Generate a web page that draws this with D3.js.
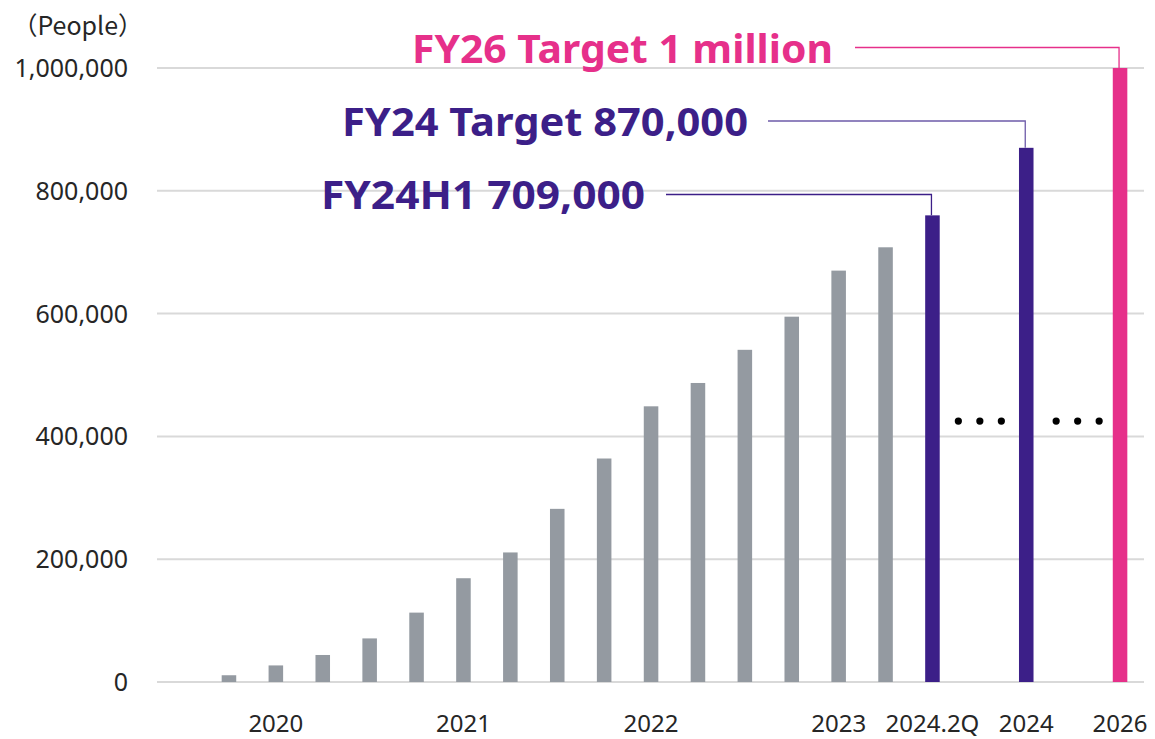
<!DOCTYPE html>
<html>
<head>
<meta charset="utf-8">
<script src="https://cdn.jsdelivr.net/npm/d3@7"></script>
<style>
  html, body { margin: 0; padding: 0; background: #ffffff; }
  svg { display: block; }
</style>
</head>
<body>
<div id="chart"></div>
<script>
// ---- Data ----
const categories = [
  "2020.3Q","2020.4Q","2021.1Q","2021.2Q","2021.3Q","2021.4Q",
  "2022.1Q","2022.2Q","2022.3Q","2022.4Q","2023.1Q","2023.2Q",
  "2023.3Q","2023.4Q","2024.1Q","2024.2Q","gapA","2024","gapB","2026"
];
const values = [
  11000, 27000, 44000, 71000, 113000, 169000,
  211000, 282000, 364000, 449000, 487000, 541000,
  595000, 670000, 708000, 760000, null, 870000, null, 1000000
];
const barKinds = [
  "actual","actual","actual","actual","actual","actual",
  "actual","actual","actual","actual","actual","actual",
  "actual","actual","actual","h1","gap","target24","gap","target26"
];
const tickLabels = {
  "2020.4Q": "2020", "2021.4Q": "2021", "2022.4Q": "2022", "2023.4Q": "2023",
  "2024.2Q": "2024.2Q", "2024": "2024", "2026": "2026"
};
const yTicks = [0, 200000, 400000, 600000, 800000, 1000000];
const gapCategories = ["gapA", "gapB"];
const gapDotsValue = 425000;
const annotations = [
  { text: "FY26 Target 1 million", target: "2026", kind: "target26" },
  { text: "FY24 Target 870,000", target: "2024", kind: "target24" },
  { text: "FY24H1 709,000", target: "2024.2Q", kind: "h1" }
];
const yUnit = "（People）";

// ---- Styles ----
const W = 1155, H = 739;
const colors = { actual: "#949aa1", h1: "#3c1f88", target24: "#3c1f88", target26: "#e6308a" };
const leaderColors = { h1: "#3c1f88", target24: "#6e5ba9", target26: "#e6308a" };
// annotation layout (pixels): text extent, baseline, leader start and y
const annLayout = {
  target26: { textEnd: 833, textStart: 412, baseline: 63, lineStart: 855, lineY: 47.5 },
  target24: { textEnd: 748, textStart: 342, baseline: 136, lineStart: 768, lineY: 121 },
  h1:       { textEnd: 645, textStart: 321, baseline: 209, lineStart: 666, lineY: 194.5 }
};

const svg = d3.select("#chart").append("svg").attr("width", W).attr("height", H);

const x = d3.scaleBand().domain(categories).range([205.5, 1143.5])
  .paddingInner(0.69).paddingOuter(0.345);
const y = d3.scaleLinear().domain([0, 1000000]).range([682, 68]);

const gridLeft = 157, gridRight = 1144;

// gridlines
svg.append("g").selectAll("line").data(yTicks).join("line")
  .attr("x1", gridLeft).attr("x2", gridRight)
  .attr("y1", d => y(d)).attr("y2", d => y(d))
  .attr("stroke", "#d9d9d9").attr("stroke-width", 2);

// y axis labels via d3 axis
const yAxis = d3.axisLeft(y).tickValues(yTicks).tickFormat(d3.format(",")).tickSize(0).tickPadding(0);
const yg = svg.append("g").attr("transform", "translate(128,0)").call(yAxis);
yg.select(".domain").remove();
yg.selectAll("text")
  .attr("font-family", "'Noto Sans', 'Open Sans', sans-serif")
  .attr("font-size", 25).attr("fill", "#262626").attr("dy", "0.34em");

svg.append("text").attr("x", 143).attr("y", 35).attr("text-anchor", "end")
  .attr("font-family", "'Noto Sans CJK JP', 'Noto Sans', sans-serif")
  .attr("font-size", 25).attr("fill", "#262626").text(yUnit);

// bars
const barData = categories.map((c, i) => ({ c, v: values[i], k: barKinds[i] })).filter(d => d.v != null);
svg.append("g").selectAll("rect").data(barData).join("rect")
  .attr("x", d => x(d.c)).attr("width", x.bandwidth())
  .attr("y", d => y(d.v)).attr("height", d => y(0) - y(d.v))
  .attr("fill", d => colors[d.k]);

// x axis labels
const xAxis = d3.axisBottom(x).tickValues(Object.keys(tickLabels))
  .tickFormat(d => tickLabels[d]).tickSize(0).tickPadding(0);
const xg = svg.append("g").attr("transform", "translate(0,682)").call(xAxis);
xg.select(".domain").remove();
xg.selectAll("text")
  .attr("font-family", "'Noto Sans', 'Open Sans', sans-serif")
  .attr("font-size", 24).attr("fill", "#262626").attr("dy", 0).attr("y", 50);

// gap dots
const dotOffsets = [-21.5, 0, 21.5];
const dotShift = { gapA: 0.5, gapB: 4.5 };
gapCategories.forEach(g => {
  const cx = x(g) + x.bandwidth() / 2 + dotShift[g];
  svg.append("g").selectAll("circle").data(dotOffsets).join("circle")
    .attr("cx", d => cx + d).attr("cy", y(gapDotsValue)).attr("r", 3.6).attr("fill", "#000");
});

// annotations
annotations.forEach(a => {
  const L = annLayout[a.kind];
  const idx = categories.indexOf(a.target);
  const bx = x(a.target) + x.bandwidth() / 2 - 1;
  const by = y(values[idx]);
  svg.append("path")
    .attr("d", `M${L.lineStart},${L.lineY}H${bx}V${by}`)
    .attr("fill", "none").attr("stroke", leaderColors[a.kind]).attr("stroke-width", 1.3);
  svg.append("text")
    .attr("x", L.textStart).attr("y", L.baseline)
    .attr("textLength", L.textEnd - L.textStart).attr("lengthAdjust", "spacingAndGlyphs")
    .attr("font-family", "'Noto Sans', 'Open Sans', sans-serif")
    .attr("font-weight", 700).attr("font-size", 40)
    .attr("fill", colors[a.kind]).text(a.text);
});
</script>
</body>
</html>
